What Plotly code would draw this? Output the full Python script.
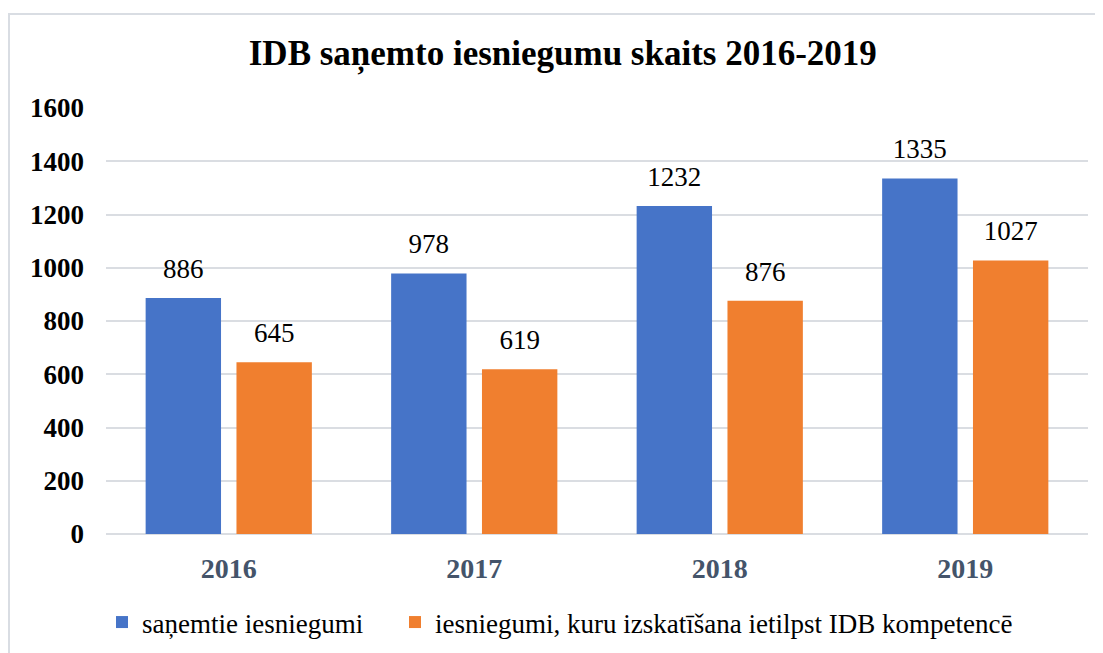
import plotly.graph_objects as go

years = ["2016", "2017", "2018", "2019"]
received = [886, 978, 1232, 1335]
competent = [645, 619, 876, 1027]
name_received = "saņemtie iesniegumi"
name_competent = "iesniegumi, kuru izskatīšana ietilpst IDB kompetencē"
title_text = "IDB saņemto iesniegumu skaits 2016-2019"
y_ticks = [0, 200, 400, 600, 800, 1000, 1200, 1400, 1600]

FONT = "Liberation Serif"
W, H = 1103, 653
L, T, R, B = 98, 100, 23, 127
PW, PH = W - L - R, H - T - B

fig = go.Figure()
fig.add_trace(go.Bar(
    x=years, y=received, name=name_received, legend="legend",
    marker=dict(color="#4674c8", line=dict(width=0)),
))
fig.add_trace(go.Bar(
    x=years, y=competent, name=name_competent, legend="legend2",
    marker=dict(color="#f07f2f", line=dict(width=0)),
))
for vals in (received, competent):
    fig.add_trace(go.Scatter(
        x=years, y=vals, mode="markers+text", text=vals, textposition="top center",
        textfont=dict(family=FONT, size=27, color="#000000"),
        marker=dict(size=20, opacity=0), showlegend=False, hoverinfo="skip",
        cliponaxis=False,
    ))

leg_y = (PH - (614.5 - T)) / PH
fig.update_layout(
    width=W, height=H,
    margin=dict(l=L, r=R, t=T, b=B, autoexpand=False),
    paper_bgcolor="white", plot_bgcolor="white",
    font=dict(family=FONT, color="#000000"),
    title=dict(text="<b>" + title_text + "</b>", x=0.503, xanchor="center",
               y=1 - 45 / H, yanchor="middle",
               font=dict(family=FONT, size=35, color="#000000")),
    barmode="group", bargap=0.26, bargroupgap=0.17,
    scattermode="group", scattergap=0.26,
    showlegend=True,
    legend=dict(orientation="h", x=-4 / PW, xanchor="left", y=leg_y, yanchor="middle",
                font=dict(family=FONT, size=27, color="#000000"), itemwidth=30),
    legend2=dict(orientation="h", x=(395 - 8 - L) / PW, xanchor="left", y=leg_y,
                 yanchor="middle",
                 font=dict(family=FONT, size=27, color="#000000"), itemwidth=30),
    xaxis=dict(tickfont=dict(family=FONT, size=28, color="#44546a", weight="bold"),
               showgrid=False, showline=False, ticks="", ticklabelstandoff=15),
    yaxis=dict(range=[0, 1600], tickvals=y_ticks,
               tickfont=dict(family=FONT, size=27, color="#000000", weight="bold"),
               showgrid=True, gridcolor="#dadde2", gridwidth=1.5,
               zeroline=True, zerolinecolor="#dadde2", zerolinewidth=1.5,
               showline=False, ticks="", ticklabelstandoff=21),
    shapes=[dict(type="rect", xref="paper", yref="paper",
                 x0=(1 - L) / PW, x1=1.1, y0=-0.5, y1=(PH + T - 6) / PH,
                 line=dict(color="#d9dde3", width=2), fillcolor="rgba(0,0,0,0)",
                 layer="below")],
)

fig.write_html("out.html")
